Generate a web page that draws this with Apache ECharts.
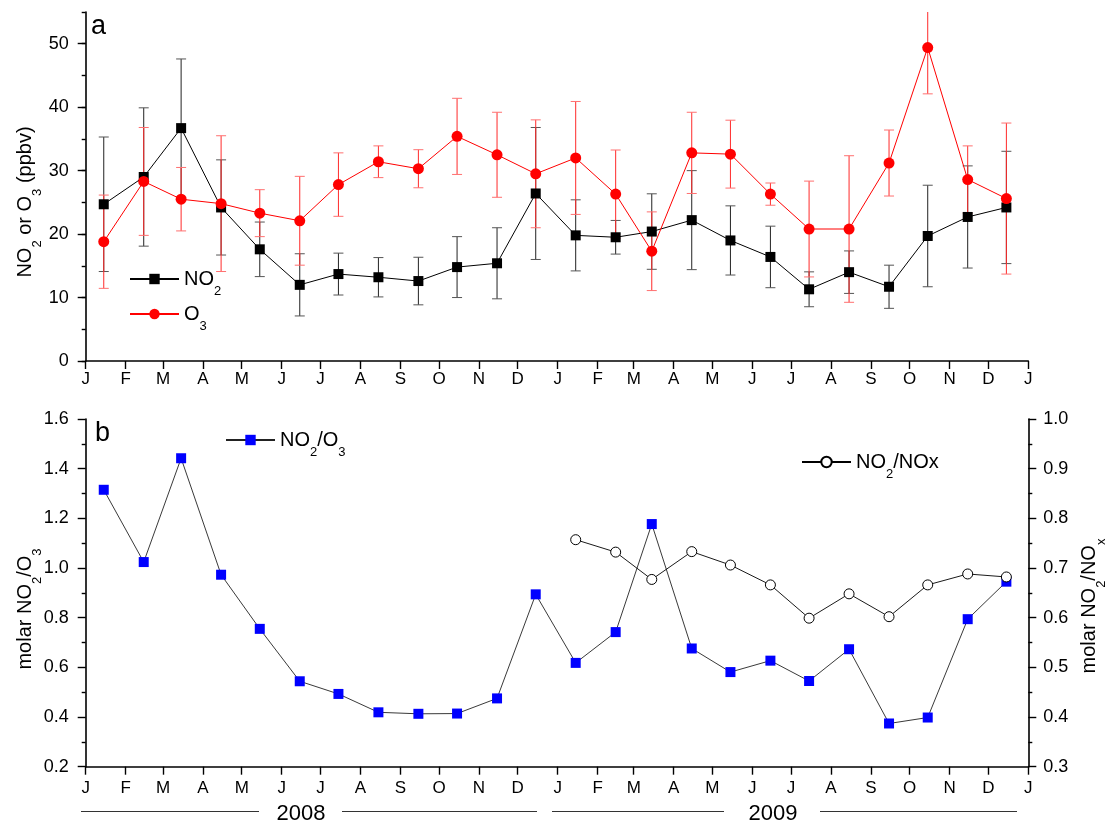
<!DOCTYPE html>
<html><head><meta charset="utf-8">
<script src="https://cdn.jsdelivr.net/npm/echarts@6/dist/echarts.min.js"></script>
<style>html,body{margin:0;padding:0;background:#fff}#c{width:1105px;height:824px}</style>
</head><body><div id="c"></div>
<script>
// ---------- data ----------
const monthLetters = ['J','F','M','A','M','J','J','A','S','O','N','D'];
const startYear = 2008;
const nMonths = 24;
const yearLabels = ['2008', '2009'];
// panel a (ppbv), monthly means Jan 2008 .. Dec 2009
const no2   = [24.7,29.0,36.7,24.2,17.6,12.0,13.7,13.2,12.6,14.8,15.4,26.4, 19.8,19.5,20.4,22.2,19.0,16.4,11.3,14.0,11.7,19.7,22.7,24.2];
const no2Sd = [10.6,10.9,10.9,7.5,4.3,4.9,3.3,3.1,3.75,4.8,5.6,10.4, 5.6,2.65,5.95,7.8,5.45,4.85,2.75,3.35,3.4,8.0,8.05,8.85];
const o3    = [18.8,28.3,25.5,24.8,23.3,22.1,27.8,31.4,30.3,35.4,32.5,29.5, 32.0,26.3,17.3,32.8,32.6,26.3,20.8,20.8,31.2,49.4,28.6,25.6];
const o3Sd  = [7.35,8.5,5.0,10.7,3.7,7.0,5.0,2.5,3.0,6.0,6.7,8.5, 8.9,6.95,6.2,6.4,5.35,1.75,7.55,11.55,5.2,7.3,5.3,11.9];
// panel b
const ratioNo2O3  = [1.315,1.024,1.442,0.973,0.755,0.544,0.493,0.419,0.413,0.414,0.475,0.894, 0.618,0.742,1.177,0.676,0.581,0.627,0.545,0.673,0.374,0.398,0.794,0.945];
const ratioNo2Nox = [null,null,null,null,null,null,null,null,null,null,null,null, 0.757,0.732,0.677,0.733,0.706,0.666,0.599,0.648,0.602,0.666,0.688,0.682];
// axis ticks
const yTicksA = [0,10,20,30,40,50];

// ---------- derived x positions (days since 1 Jan 2008) ----------
const DAY = 86400000;
const t0 = Date.UTC(startYear,0,1);
const monthStarts = [];
for (let i = 0; i <= nMonths; i++) monthStarts.push(Math.round((Date.UTC(startYear,i,1)-t0)/DAY));
const midMonth = monthStarts.slice(0, nMonths).map(d => d + 14);
const xMax = monthStarts[nMonths];

const FONT = "'Liberation Sans', Arial, sans-serif";
const LH = 38;
const rich = {
  m: {fontSize: 20, fontFamily: FONT, color: '#000', lineHeight: LH, verticalAlign: 'middle'},
  s: {fontSize: 13, fontFamily: FONT, color: '#000', lineHeight: 14, verticalAlign: 'bottom'}
};

function pairs(xs, ys){ return xs.map((x,i)=>[x, ys[i]]); }
function errData(vals, sds){ return vals.map((v,i)=>[midMonth[i], v - sds[i], v + sds[i]]); }

function errRender(color, capColor){
  return function(params, api){
    const x = api.value(0), lo = api.value(1), hi = api.value(2);
    const cs = params.coordSys;
    const pLo = api.coord([x, lo]), pHi = api.coord([x, hi]);
    const top = Math.max(pHi[1], cs.y), bot = Math.min(pLo[1], cs.y + cs.height);
    const hw = 5;
    const ch = [{type:'line', shape:{x1:pLo[0], y1:bot, x2:pLo[0], y2:top}, style:{stroke:color, lineWidth:1}}];
    if (pHi[1] >= cs.y) ch.push({type:'line', shape:{x1:pHi[0]-hw, y1:pHi[1], x2:pHi[0]+hw, y2:pHi[1]}, style:{stroke:capColor, lineWidth:1}});
    if (pLo[1] <= cs.y + cs.height) ch.push({type:'line', shape:{x1:pLo[0]-hw, y1:pLo[1], x2:pLo[0]+hw, y2:pLo[1]}, style:{stroke:capColor, lineWidth:1}});
    return {type:'group', children: ch};
  };
}

function xAxisFor(gi, margin){
  return {
    type:'value', gridIndex: gi, min: 0, max: xMax,
    axisLine:{show:true, onZero:false, lineStyle:{color:'#000', width:1.6}},
    axisTick:{show:true, inside:false, length:8, customValues: monthStarts, lineStyle:{color:'#000', width:1.4}},
    axisLabel:{show:true, margin: margin, customValues: monthStarts, fontSize:17, fontFamily:FONT, color:'#000',
      formatter: v => { const i = monthStarts.indexOf(v); return i < 0 ? '' : monthLetters[i % 12]; }},
    splitLine:{show:false}
  };
}

const legendBase = {orient:'vertical', itemWidth:49, itemHeight:13, selectedMode:false,
  textStyle:{rich: rich}, padding:0};
const legendFmt = {
  'NO2': '{m|NO}{s|2}',
  'O3': '{m|O}{s|3}',
  'NO2/O3': '{m|NO}{s|2}{m|/O}{s|3}',
  'NO2/NOx': '{m|NO}{s|2}{m|/NOx}'
};
const half = LH / 2;

const option = {
  animation: false,
  backgroundColor: '#fff',
  grid: [
    {left: 85.7, right: 76.7, top: 12, height: 349},
    {left: 85.7, right: 76.7, top: 419, height: 347.7}
  ],
  xAxis: [xAxisFor(0, 10), xAxisFor(1, 13)],
  yAxis: [
    {type:'value', gridIndex:0, position:'left', min:0, max:55, interval:10,
      axisLine:{show:true, lineStyle:{color:'#000', width:1.6}},
      axisTick:{show:true, length:8, customValues: yTicksA, lineStyle:{color:'#000', width:1.4}},
      axisLabel:{customValues: yTicksA, margin:17, fontSize:18, fontFamily:FONT, color:'#000'},
      splitLine:{show:false}},
    {type:'value', gridIndex:0, position:'left', offset:0, min:0, max:55, interval:5,
      axisLine:{show:false}, axisLabel:{show:false},
      axisTick:{show:true, length:4, lineStyle:{color:'#000', width:1.4}},
      splitLine:{show:false}},
    {type:'value', gridIndex:1, position:'left', min:0.2, max:1.6, interval:0.2,
      axisLine:{show:true, lineStyle:{color:'#000', width:1.6}},
      axisTick:{show:true, length:8, lineStyle:{color:'#000', width:1.4}},
      minorTick:{show:true, splitNumber:2, length:4, lineStyle:{color:'#000', width:1.4}},
      axisLabel:{margin:17, fontSize:18, fontFamily:FONT, color:'#000', formatter: v => v.toFixed(1)},
      splitLine:{show:false}, minorSplitLine:{show:false}},
    {type:'value', gridIndex:1, position:'right', min:0.3, max:1.0, interval:0.1,
      axisLine:{show:true, lineStyle:{color:'#000', width:1.6}},
      axisTick:{show:true, length:8, lineStyle:{color:'#000', width:1.4}},
      minorTick:{show:true, splitNumber:2, length:4, lineStyle:{color:'#000', width:1.4}},
      axisLabel:{margin:15, fontSize:18, fontFamily:FONT, color:'#000', formatter: v => v.toFixed(1)},
      splitLine:{show:false}, minorSplitLine:{show:false}}
  ],
  legend: [
    Object.assign({}, legendBase, {data:['NO2'], left:129, top:288-half, formatter: n => legendFmt[n]}),
    Object.assign({}, legendBase, {data:['O3'], left:129, top:323-half, formatter: n => legendFmt[n]}),
    Object.assign({}, legendBase, {data:['NO2/O3'], left:225, top:449-half, formatter: n => legendFmt[n]}),
    Object.assign({}, legendBase, {data:['NO2/NOx'], left:801, top:471-half, formatter: n => legendFmt[n]})
  ],
  series: [
    {type:'custom', name:'NO2 sd', xAxisIndex:0, yAxisIndex:0, data: errData(no2, no2Sd),
      encode:{x:0, y:[1,2]}, renderItem: errRender('#222', '#555'), z:1, silent:true},
    {type:'custom', name:'O3 sd', xAxisIndex:0, yAxisIndex:0, data: errData(o3, o3Sd),
      encode:{x:0, y:[1,2]}, renderItem: errRender('#ff2a2a', '#ff7070'), z:1, silent:true},
    {type:'line', name:'NO2', xAxisIndex:0, yAxisIndex:0, data: pairs(midMonth, no2),
      symbol:'rect', symbolSize:10, itemStyle:{color:'#000'}, lineStyle:{color:'#000', width:1}, z:3},
    {type:'line', name:'O3', xAxisIndex:0, yAxisIndex:0, data: pairs(midMonth, o3),
      symbol:'circle', symbolSize:11, itemStyle:{color:'#ff0000'}, lineStyle:{color:'#ff0000', width:1}, z:4},
    {type:'line', name:'NO2/O3', xAxisIndex:1, yAxisIndex:2, data: pairs(midMonth, ratioNo2O3),
      symbol:'rect', symbolSize:10, itemStyle:{color:'#0000ff'}, lineStyle:{color:'#222', width:0.9}, z:3},
    {type:'line', name:'NO2/NOx', xAxisIndex:1, yAxisIndex:3, data: pairs(midMonth, ratioNo2Nox),
      symbol:'circle', symbolSize:10, itemStyle:{color:'#fff', borderColor:'#000', borderWidth:1},
      lineStyle:{color:'#000', width:0.9}, z:4}
  ],
  graphic: [
    {type:'text', x:91, y:27, style:{text:'a', font:'27px ' + FONT, fill:'#000', align:'left', verticalAlign:'middle'}},
    {type:'text', x:95, y:434, style:{text:'b', font:'27px ' + FONT, fill:'#000', align:'left', verticalAlign:'middle'}},
    {type:'text', x:25, y:202, rotation:Math.PI/2, style:{text:'{m|NO}{s|2}{m| or O}{s|3}{m| (ppbv)}', rich:rich, align:'center', verticalAlign:'middle'}},
    {type:'text', x:25, y:609, rotation:Math.PI/2, style:{text:'{m|molar NO}{s|2}{m|/O}{s|3}', rich:rich, align:'center', verticalAlign:'middle'}},
    {type:'text', x:1089, y:606, rotation:Math.PI/2, style:{text:'{m|molar NO}{s|2}{m|/NO}{s|x}', rich:rich, align:'center', verticalAlign:'middle'}},
    {type:'text', x:301, y:814, style:{text:yearLabels[0], font:'22px ' + FONT, fill:'#000', align:'center', verticalAlign:'middle'}},
    {type:'text', x:773, y:814, style:{text:yearLabels[1], font:'22px ' + FONT, fill:'#000', align:'center', verticalAlign:'middle'}},
    {type:'line', shape:{x1:81, y1:811.5, x2:259, y2:811.5}, style:{stroke:'#333', lineWidth:1}},
    {type:'line', shape:{x1:342, y1:811.5, x2:537, y2:811.5}, style:{stroke:'#333', lineWidth:1}},
    {type:'line', shape:{x1:552, y1:811.5, x2:724, y2:811.5}, style:{stroke:'#333', lineWidth:1}},
    {type:'line', shape:{x1:820, y1:811.5, x2:1017, y2:811.5}, style:{stroke:'#333', lineWidth:1}}
  ]
};

const chart = echarts.init(document.getElementById('c'), null, {renderer:'canvas'});
chart.setOption(option);
</script>
</body></html>
